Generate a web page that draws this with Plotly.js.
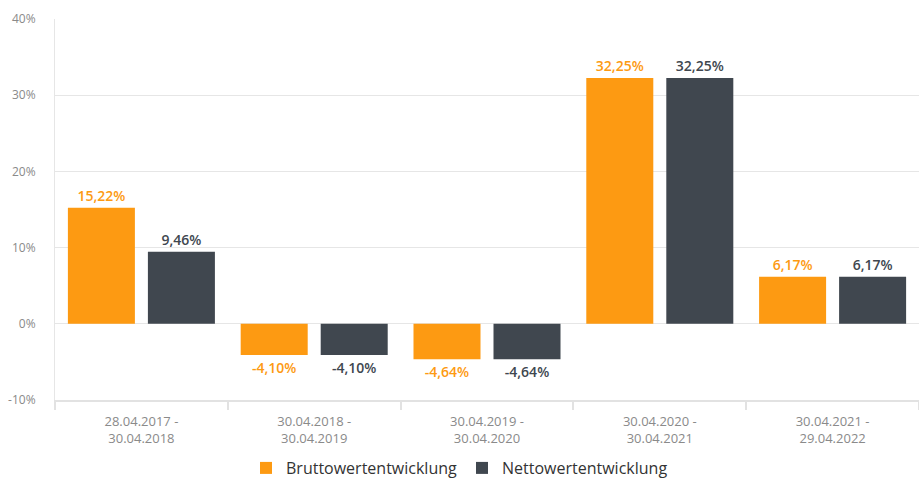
<!DOCTYPE html>
<html><head><meta charset="utf-8">
<script src="https://cdn.plot.ly/plotly-3.0.1.min.js"></script>
<style>html,body{margin:0;padding:0;background:#fff}#c{width:919px;height:486px}</style>
</head><body><div id="c"></div>
<script>
const categories = ["28.04.2017 -<br>30.04.2018","30.04.2018 -<br>30.04.2019","30.04.2019 -<br>30.04.2020","30.04.2020 -<br>30.04.2021","30.04.2021 -<br>29.04.2022"];
const brutto = [15.22, -4.10, -4.64, 32.25, 6.17];
const netto = [9.46, -4.10, -4.64, 32.25, 6.17];
const yTicks = [-10, 0, 10, 20, 30, 40];
const yTickLabels = ["-10%","0%","10%","20%","30%","40%"];

const orange = "#fd9a12", dark = "#40474f";
const fmt = v => v.toFixed(2).replace(".", ",") + "%";

const traces = [
  {type:"bar", name:"Bruttowertentwicklung", x:categories, y:brutto, marker:{color:orange},
   text:brutto.map(fmt), textposition:"outside", cliponaxis:false,
   textfont:{color:orange, size:14, family:"Open Sans", weight:600}, hoverinfo:"none"},
  {type:"bar", name:"Nettowertentwicklung", x:categories, y:netto, marker:{color:dark},
   text:netto.map(fmt), textposition:"outside", cliponaxis:false,
   textfont:{color:dark, size:14, family:"Open Sans", weight:600}, hoverinfo:"none"}
];

const layout = {
  width:919, height:486,
  margin:{l:55, r:0, t:19, b:86, autoexpand:false},
  paper_bgcolor:"#fff", plot_bgcolor:"#fff",
  font:{family:"Open Sans", color:"#888"},
  barmode:"group", bargap:0.074, bargroupgap:0.1625,
  showlegend:true,
  legend:{orientation:"h", x:0.5, xanchor:"center", xref:"container", yref:"container", y:0.072, yanchor:"top",
          font:{size:16, color:"#333", family:"Open Sans"}, itemsizing:"constant"},
  xaxis:{type:"category", showgrid:false, showline:true, linecolor:"#e2e2e2", linewidth:2,
         ticks:"outside", tickson:"boundaries", ticklen:8, tickcolor:"#e2e2e2", tickwidth:2,
         ticklabelstandoff:8,
         tickfont:{size:13, color:"#8a8a8a", family:"Open Sans"}, fixedrange:true},
  yaxis:{range:[-10,40], tickvals:yTicks, ticktext:yTickLabels, showgrid:true, gridcolor:"#e6e6e6",
         zeroline:false, showline:true, linecolor:"#e6e6e6", ticks:"", ticklabelstandoff:16,
         tickfont:{size:12, color:"#8a8a8a", family:"Open Sans"}, fixedrange:true}
};

Plotly.newPlot("c", traces, layout, {displayModeBar:false, staticPlot:true});
</script></body></html>
